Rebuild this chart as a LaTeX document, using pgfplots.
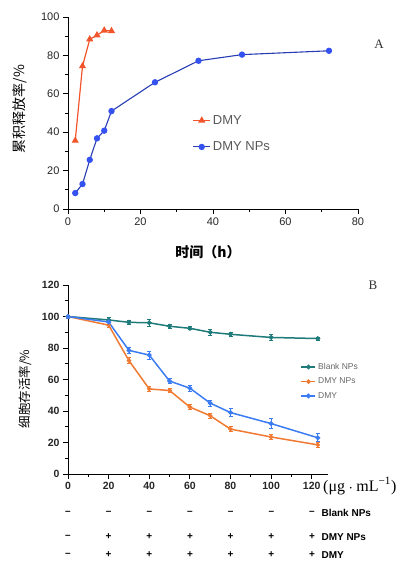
\documentclass[border=0pt]{standalone}
\usepackage{fontspec}
\setmainfont{Liberation Sans}
\newfontfamily\cjk{Noto Sans CJK SC}
\newfontfamily\serif{Liberation Serif}
\usepackage{pgfplots}
\pgfplotsset{compat=1.18}
\definecolor{redA}{HTML}{F2552C}
\definecolor{blueA}{HTML}{3552F0}
\definecolor{cTeal}{HTML}{1F7A7A}
\definecolor{orgB}{HTML}{F07A32}
\definecolor{blueB}{HTML}{3B7CF2}
\pgfplotsset{
  panel/.style={
    scale only axis, anchor=south west,
    axis lines=left, axis line style={-,black,line width=0.9pt},
    tick align=outside, major tick length=5pt, minor tick length=3pt,
    tick style={black,line width=0.8pt},
    /pgf/number format/assume math mode=true,
    clip=false,
  },
}
\begin{document}
\begin{tikzpicture}
\path[use as bounding box] (0,0) rectangle (418pt,568pt);

% panel A
\begin{axis}[panel,
  at={(68pt,359pt)}, width=290pt, height=192pt,
  xmin=0, xmax=80, ymin=0, ymax=100,
  xtick={0,20,...,80}, ytick={0,20,...,100},
  minor x tick num=1, minor y tick num=1,
  tick label style={font=\fontsize{11}{12}\selectfont, text=black!85},
  legend style={draw=none, fill=none, at={(axis cs:33.5,51)}, anchor=north west,
    font=\fontsize{13}{15}\selectfont, text=black!65, row sep=12pt},
  legend cell align=left,
]
\addplot[redA, line width=1.2pt, mark=triangle*, mark size=3pt]
  coordinates {(2,35.6)(4,74.4)(6,88.4)(8,90.5)(10,93)(12,92.7)};
\addplot[blueA!75!black, line width=1.1pt, mark=*, mark size=2.6pt,
  mark options={blueA}]
  coordinates {(2,8.3)(4,13)(6,25.6)(8,36.8)(10,40.8)(12,51)(24,66)(36,77.2)(48,80.4)(72,82.4)};
\legend{DMY, DMY NPs}
\end{axis}
\node[rotate=90, font=\cjk\fontsize{14}{14}\selectfont] at (20pt,459pt) {累积释放率/\%};
\node[font=\cjk\bfseries\fontsize{14}{14}\selectfont] at (208pt,316pt) {时间（h）};
\node[font=\serif\fontsize{13}{13}\selectfont, text=black!80] at (379pt,524pt) {A};

% panel B
\begin{axis}[panel,
  at={(68pt,94pt)}, width=260pt, height=189pt,
  xmin=0, xmax=128, ymin=0, ymax=120,
  xtick={0,20,...,120}, ytick={0,20,...,120},
  minor x tick num=1, minor y tick num=1,
  tick label style={font=\bfseries\fontsize{10.5}{12}\selectfont, text=black!85},
  legend style={draw=none, fill=none, at={(axis cs:113,73)}, anchor=north west,
    font=\fontsize{8.5}{10}\selectfont, text=black!60, row sep=3pt},
  legend cell align=left,
  legend image code/.code={\draw[#1,mark=none] (0pt,0pt) -- (14pt,0pt);
    \draw[#1] plot coordinates {(7pt,0pt)};},
  error bars/y dir=both, error bars/y explicit,
  error bars/error bar style={line width=0.8pt},
  error bars/error mark options={rotate=90, mark size=2pt, line width=0.8pt},
]
\addplot[cTeal, line width=1.5pt, mark=*, mark size=1.6pt]
  coordinates {(0,100)+-(0,1)(20,97.8)+-(0,1.5)(30,96.3)+-(0,1)(40,96)+-(0,2)(50,93.8)+-(0,1.5)
    (60,92.5)+-(0,1)(70,90)+-(0,2)(80,88.7)+-(0,1.5)(100,86.7)+-(0,1.8)(123,86)+-(0,1)};
\addplot[orgB, line width=1.5pt, mark=*, mark size=1.4pt]
  coordinates {(0,100)+-(0,1)(20,94.5)+-(0,1.5)(30,72)+-(0,2)(40,54)+-(0,1.5)(50,53)+-(0,1.5)
    (60,42.5)+-(0,1.5)(70,37)+-(0,1.5)(80,28.5)+-(0,1.5)(100,23.5)+-(0,1.5)(123,18.5)+-(0,1.5)};
\addplot[blueB, line width=1.5pt, mark=*, mark size=1.6pt]
  coordinates {(0,100)+-(0,1)(20,96.5)+-(0,1.5)(30,78.5)+-(0,2)(40,75.5)+-(0,2.5)(50,59)+-(0,1.5)
    (60,54.5)+-(0,2)(70,45)+-(0,2)(80,39)+-(0,2.5)(100,32)+-(0,3)(123,23)+-(0,2.5)};
\legend{Blank NPs, DMY NPs, DMY}
\end{axis}
\node[rotate=90, font=\cjk\fontsize{12.5}{12.5}\selectfont] at (25pt,179pt) {细胞存活率/\%};
\node[font=\serif\fontsize{13}{13}\selectfont, text=black!80] at (373pt,283pt) {B};
\node[anchor=west, inner sep=0pt, font=\serif\fontsize{16}{16}\selectfont] at (323pt,82pt)
  {(μg\;{\fontsize{7}{7}\selectfont\raisebox{1pt}{\textbullet}}\;mL\textsuperscript{−1})};

% treatment rows
\foreach \xx/\sa/\sb in {0/--/--, 20/+/+, 40/+/+, 60/+/+, 80/+/+, 100/+/+, 120/+/+}{
  \node[font=\bfseries\fontsize{10}{12}\selectfont] at ({68pt+2.033pt*\xx},55pt) {--};
  \node[font=\bfseries\fontsize{10}{12}\selectfont] at ({68pt+2.033pt*\xx},31pt) {\sa};
  \node[font=\bfseries\fontsize{10}{12}\selectfont] at ({68pt+2.033pt*\xx},13pt) {\sb};
}
\node[anchor=west, font=\bfseries\fontsize{10}{12}\selectfont] at (318pt,55pt) {Blank NPs};
\node[anchor=west, font=\bfseries\fontsize{10}{12}\selectfont] at (318pt,31pt) {DMY NPs};
\node[anchor=west, font=\bfseries\fontsize{10}{12}\selectfont] at (318pt,13pt) {DMY};
\end{tikzpicture}
\end{document}
